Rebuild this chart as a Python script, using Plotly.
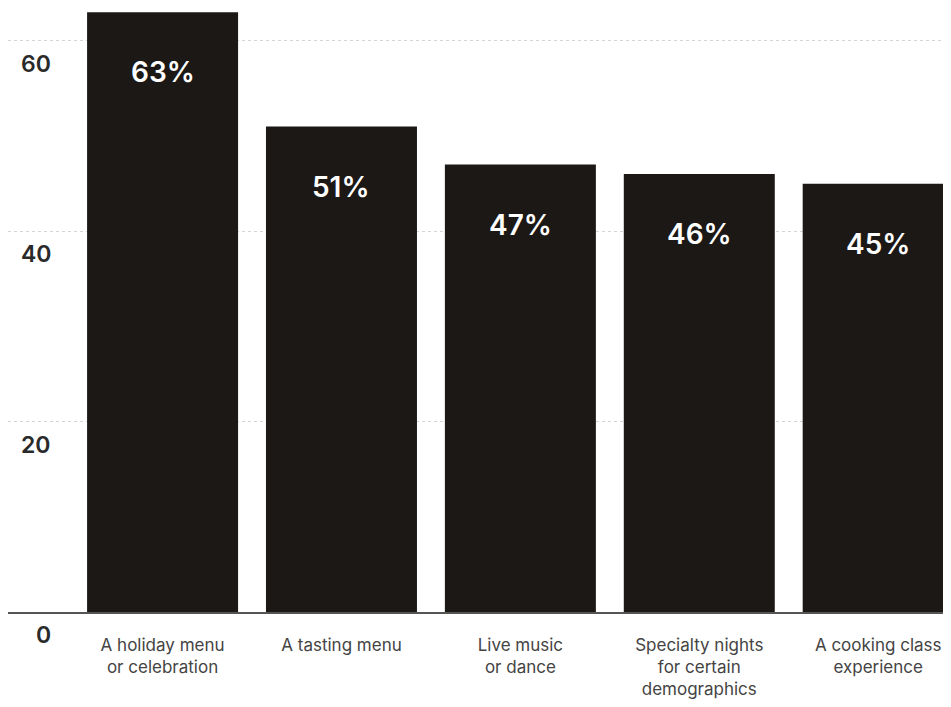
import plotly.graph_objects as go

categories = [
    "A holiday menu<br>or celebration",
    "A tasting menu",
    "Live music<br>or dance",
    "Specialty nights<br>for certain<br>demographics",
    "A cooking class<br>experience",
]
values = [63, 51, 47, 46, 45]
y_ticks = [0, 20, 40, 60]

BAR = "#1c1816"
FONT = "Inter"

fig = go.Figure()
fig.add_trace(go.Bar(
    x=list(range(len(categories))),
    y=values,
    marker=dict(color=BAR, line=dict(width=0)),
    hoverinfo="skip",
))

for i, v in enumerate(values):
    fig.add_annotation(
        x=i, y=v, text=f"{v}%", showarrow=False,
        yshift=-60, yanchor="middle",
        font=dict(family=FONT, size=28, color="white", weight=600),
    )

fig.update_layout(
    width=943, height=699,
    margin=dict(l=0, r=0, t=0, b=95),
    paper_bgcolor="white", plot_bgcolor="white",
    bargap=0.156,
    showlegend=False,
    xaxis=dict(
        tickmode="array",
        tickvals=list(range(len(categories))),
        ticktext=categories,
        range=[-0.864, 4.407],
        showgrid=False,
        showline=True, linecolor="#555555", linewidth=1.5,
        ticks="",
        ticklabelstandoff=17,
        tickfont=dict(family=FONT, size=17, color="#444444"),
    ),
    yaxis=dict(
        range=[0, 63.45],
        tickvals=y_ticks,
        ticktext=[str(t).rjust(2, "\u2007") for t in y_ticks],
        showgrid=True, gridcolor="#d4d4d4", griddash="dot", gridwidth=1,
        zeroline=False,
        ticks="",
        ticklabelposition="inside bottom",
        ticklabeloverflow="allow",
        ticklabelshift=7,
        ticklabelstandoff=10,
        tickfont=dict(family=FONT, size=23, color="#2a2a2a", weight=600),
    ),
)

fig.write_html("out.html")
